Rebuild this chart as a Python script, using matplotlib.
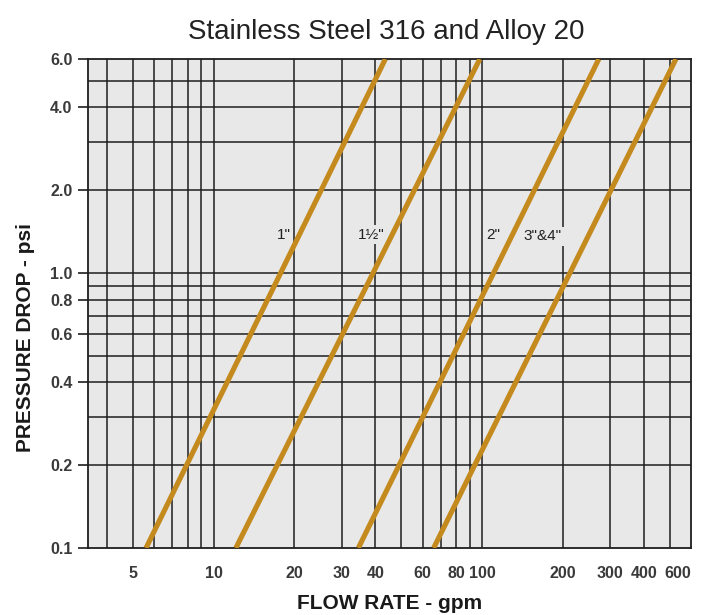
import matplotlib
matplotlib.use("Agg")
import matplotlib.pyplot as plt
from matplotlib.ticker import FixedLocator, FixedFormatter, NullLocator

# pressure drop (psi) at the two ends of each line, and flow read at those ends
pressure_ends = [0.1, 6.0]
sizes = ['1"', '1\u00bd"', '2"', '3"&4"']
flow_ends = {
    '1"': [5.6, 43.6],
    '1\u00bd"': [12.1, 98.0],
    '2"': [34.6, 272.0],
    '3"&4"': [66.0, 527.0],
}

x_ticks = [5, 10, 20, 30, 40, 60, 80, 100, 200, 300, 400, 600]
y_ticks = [0.1, 0.2, 0.4, 0.6, 0.8, 1.0, 2.0, 4.0, 6.0]
y_labels = ["0.1", "0.2", "0.4", "0.6", "0.8", "1.0", "2.0", "4.0", "6.0"]

x_grid = [4, 5, 6, 7, 8, 9, 10, 20, 30, 40, 50, 60, 70, 80, 90,
          100, 200, 300, 400, 500]
y_grid = [0.2, 0.3, 0.4, 0.5, 0.6, 0.7, 0.8, 0.9, 1.0, 2.0, 3.0, 4.0, 5.0]

# where the size labels sit (flow, psi)
label_pos = {
    '1"': (18.2, 1.38),
    '1\u00bd"': (38.5, 1.38),
    '2"': (110, 1.38),
    '3"&4"': (168, 1.36),
}

font = ["Liberation Sans", "DejaVu Sans"]
line_color = "#c48a1e"
grid_color = "#1e1e1e"
bg = "#e8e8e8"

fig = plt.figure(figsize=(7.03, 6.15), dpi=100)
ax = fig.add_axes([0.125, 0.109, 0.858, 0.795])
ax.set_facecolor(bg)
ax.set_xscale("log")
ax.set_yscale("log")
ax.set_xlim(3.4, 600)
ax.set_ylim(0.1, 6.0)

for v in x_grid:
    ax.axvline(v, color=grid_color, lw=1.1, zorder=1)
for v in y_grid:
    ax.axhline(v, color=grid_color, lw=1.1, zorder=1)

for s in sizes:
    ax.plot(flow_ends[s], pressure_ends, color=line_color, lw=3.7,
            solid_capstyle="butt", zorder=3)
    lx, ly = label_pos[s]
    ax.text(lx, ly, s, family=font, fontsize=11, color="#222222",
            ha="center", va="center", zorder=2,
            bbox=dict(boxstyle="square,pad=0.15", fc=bg, ec="none"))

for sp in ax.spines.values():
    sp.set_color(grid_color)
    sp.set_linewidth(1.3)

ax.xaxis.set_major_locator(FixedLocator(x_ticks))
ax.xaxis.set_major_formatter(FixedFormatter([str(v) for v in x_ticks]))
ax.xaxis.set_minor_locator(NullLocator())
ax.yaxis.set_major_locator(FixedLocator(y_ticks))
ax.yaxis.set_major_formatter(FixedFormatter(y_labels))
ax.yaxis.set_minor_locator(NullLocator())

ax.tick_params(axis="x", length=0, pad=13, labelsize=11.5, labelcolor="#3a3a3a")
ax.tick_params(axis="y", length=7, width=1.2, color=grid_color, pad=4,
               labelsize=11.5, labelcolor="#3a3a3a")
for lab in ax.get_xticklabels() + ax.get_yticklabels():
    lab.set_family(font)
    lab.set_fontweight("bold")
# keep the last flow label inside the figure
ax.get_xticklabels()[-1].set_horizontalalignment("right")

fig.text(0.549, 0.948, "Stainless Steel 316 and Alloy 20", family=font,
         fontsize=20, color="#222222", ha="center", va="center")
ax.set_xlabel("FLOW RATE - gpm", family=font, fontsize=15,
              fontweight="bold", color="#1a1a1a", labelpad=9)
ax.set_ylabel("PRESSURE DROP - psi", family=font, fontsize=15,
              fontweight="bold", color="#1a1a1a")
ax.yaxis.set_label_coords(-0.088, 0.43)

fig.savefig("out.png", dpi=100)
